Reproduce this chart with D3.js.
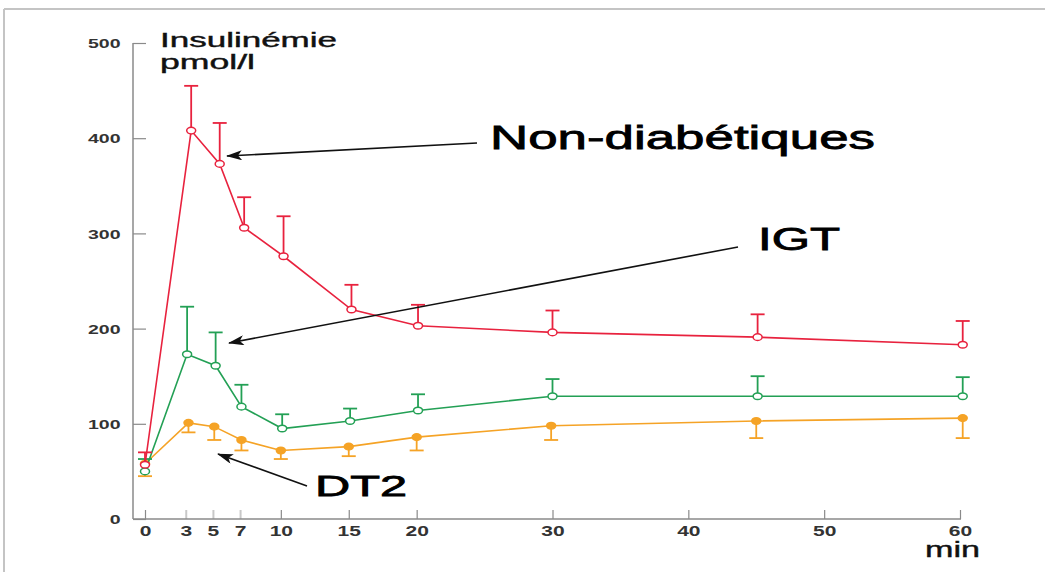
<!DOCTYPE html>
<html><head><meta charset="utf-8">
<script src="https://cdn.jsdelivr.net/npm/d3@7"></script>
<style>body{margin:0;background:#fff}svg{display:block}text{font-family:"Liberation Sans",Arial,sans-serif}</style>
</head><body>
<svg id="c" width="1045" height="572"></svg>
<script>
// ---- data ----
const xTicks = [0, 3, 5, 7, 10, 15, 20, 30, 40, 50, 60];
const yTicks = [0, 100, 200, 300, 400, 500];

const nonDiabTimes = [0, 3.4, 5.5, 7.3, 10.2, 15.2, 20.1, 30, 45.1, 60.2];
const nonDiabMean  = [57, 408, 373, 306, 276, 220, 203, 196, 191, 183];
const nonDiabErr   = [70, 455, 416, 338, 318, 246, 225, 219, 215, 208];

const igtTimes = [0, 3.1, 5.2, 7.1, 10.1, 15.1, 20.1, 30, 45.1, 60.2];
const igtMean  = [50, 173, 161, 118, 95, 103, 114, 129, 129, 129];
const igtErr   = [63, 223, 196, 141, 110, 116, 131, 147, 150, 149];

const dt2Times = [0, 3.2, 5.1, 7.1, 10, 15, 20, 29.9, 45, 60.2];
const dt2Mean  = [58, 101, 97, 83, 72, 76, 86, 98, 103, 106];
const dt2Err   = [45, 91, 83, 72, 63, 66, 72, 83, 85, 85];

const labels = {nd: "Non-diabétiques", igt: "IGT", dt2: "DT2", yTitle1: "Insulinémie", yTitle2: "pmol/l", xTitle: "min"};

// ---- drawing ----
const svg = d3.select("#c");
const x = d3.scaleLinear().domain([0, 60]).range([145, 960]);
const y = d3.scaleLinear().domain([0, 500]).range([519, 43]);

function fit(sel, w) { sel.attr("textLength", w).attr("lengthAdjust", "spacingAndGlyphs"); return sel; }

// frame
svg.append("line").attr("x1", 4).attr("x2", 1045).attr("y1", 9).attr("y2", 9).attr("stroke", "#c4c4c4").attr("stroke-width", 2);
svg.append("line").attr("x1", 4).attr("x2", 4).attr("y1", 9).attr("y2", 572).attr("stroke", "#c4c4c4").attr("stroke-width", 2);

const axisColor = "#8a8a8a";
// y axis
const gy = svg.append("g").attr("transform", "translate(133,0)")
  .call(d3.axisRight(y).tickValues(yTicks).tickSize(13));
gy.select(".domain").remove();
gy.selectAll(".tick text").remove();
gy.selectAll(".tick line").attr("stroke", axisColor).attr("stroke-width", 1.2);
svg.append("line").attr("x1", 133).attr("x2", 133).attr("y1", y(500)).attr("y2", y(0)).attr("stroke", axisColor).attr("stroke-width", 1.5);
gy.selectAll(".tick").each(function(d) {
  const t = d3.select(this).append("text").text(d3.format("d")(d))
    .attr("fill", "#333").attr("font-size", 13).attr("font-weight", "bold").attr("dy", "0.36em");
  const w = t.node().getComputedTextLength() * 1.5;
  t.attr("x", -12.5 - w).attr("text-anchor", "start");
  fit(t, w);
});

// x axis
const gx = svg.append("g").attr("transform", "translate(0,519)")
  .call(d3.axisTop(x).tickValues(xTicks).tickSize(9));
gx.select(".domain").remove();
gx.selectAll(".tick text").remove();
gx.selectAll(".tick line").attr("stroke", d => (d === 3 || d === 5 || d === 7) ? "#c8c8c8" : axisColor)
  .attr("stroke-width", d => (d === 3 || d === 5 || d === 7) ? 2 : 1.2);
svg.append("line").attr("x1", 133).attr("x2", x(60) + 1).attr("y1", 519).attr("y2", 519).attr("stroke", axisColor).attr("stroke-width", 1.5);
gx.selectAll(".tick").each(function(d) {
  const t = d3.select(this).append("text").text(d).attr("fill", "#333")
    .attr("font-size", 14).attr("font-weight", "bold").attr("y", 16.5).attr("text-anchor", "start");
  const w = t.node().getComputedTextLength() * 1.5;
  t.attr("x", -w / 2);
  fit(t, w);
});

// axis titles
function title(xp, yp, size, str, w, sw, col) {
  return fit(svg.append("text").attr("x", xp).attr("y", yp).attr("font-size", size).attr("fill", col)
    .attr("stroke", col).attr("stroke-width", sw).text(str), w);
}
title(160, 47, 20, labels.yTitle1, 177, 0.4, "#111");
title(160, 69, 20, labels.yTitle2, 95, 0.4, "#111");
title(925, 557, 22, labels.xTitle, 55, 0.4, "#111");

// series
const series = [
  {times: dt2Times, mean: dt2Mean, err: dt2Err, color: "#f5a326", filled: true},
  {times: igtTimes, mean: igtMean, err: igtErr, color: "#23a055", filled: false},
  {times: nonDiabTimes, mean: nonDiabMean, err: nonDiabErr, color: "#e8223e", filled: false}
];
const line = d3.line().x(d => x(d.t)).y(d => y(d.v));
series.forEach(s => {
  const pts = s.times.map((t, i) => ({t, v: s.mean[i], e: s.err[i]}));
  const g = svg.append("g");
  g.selectAll("line.eb").data(pts).join("line").attr("class", "eb")
    .attr("x1", d => x(d.t)).attr("x2", d => x(d.t)).attr("y1", d => y(d.v)).attr("y2", d => y(d.e))
    .attr("stroke", s.color).attr("stroke-width", 1.8);
  g.selectAll("line.cap").data(pts).join("line").attr("class", "cap")
    .attr("x1", d => x(d.t) - 7).attr("x2", d => x(d.t) + 7).attr("y1", d => y(d.e)).attr("y2", d => y(d.e))
    .attr("stroke", s.color).attr("stroke-width", 1.8);
  g.append("path").datum(pts).attr("d", line).attr("fill", "none").attr("stroke", s.color).attr("stroke-width", 1.6);
  g.selectAll("ellipse").data(pts).join("ellipse")
    .attr("cx", d => x(d.t)).attr("cy", d => y(d.v)).attr("rx", 4.5).attr("ry", 3.3)
    .attr("fill", s.filled ? s.color : "#fff").attr("stroke", s.color).attr("stroke-width", 1.5);
});

// annotations
const defs = svg.append("defs");
defs.append("marker").attr("id", "ah").attr("viewBox", "0 0 16 10").attr("refX", 15).attr("refY", 5)
  .attr("markerWidth", 16).attr("markerHeight", 10).attr("markerUnits", "userSpaceOnUse").attr("orient", "auto")
  .append("path").attr("d", "M0,0 L16,5 L0,10 L4,5 Z").attr("fill", "#111");
const arrows = [[477, 143, 227, 156], [738, 247, 229, 343], [307, 486, 218, 454]];
svg.selectAll("line.arrow").data(arrows).join("line").attr("class", "arrow")
  .attr("x1", d => d[0]).attr("y1", d => d[1]).attr("x2", d => d[2]).attr("y2", d => d[3])
  .attr("stroke", "#111").attr("stroke-width", 1.6).attr("marker-end", "url(#ah)");

title(490, 149, 33, labels.nd, 385, 0.8, "#000");
title(758, 250, 31, labels.igt, 82, 0.8, "#000");
title(315, 496, 30, labels.dt2, 92, 0.8, "#000");
</script>
</body></html>
